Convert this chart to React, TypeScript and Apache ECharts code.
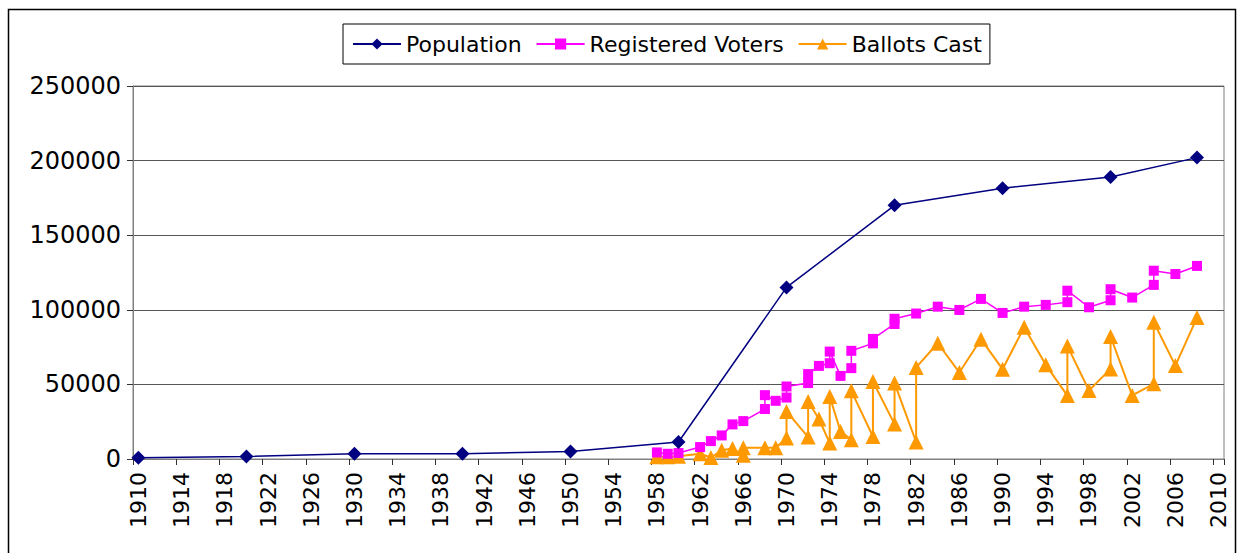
import React, { useEffect, useRef } from "react";
import * as echarts from "echarts";

const firstYear = 1910;
const lastYear = 2010;
const yTicks = { min: 0, max: 250000, interval: 50000 };

const populationYears = [1910, 1920, 1930, 1940, 1950, 1960, 1970, 1980, 1990, 2000, 2008];
const populationValues = [800, 1700, 3500, 3600, 5000, 11400, 115000, 170000, 181500, 189000, 202000];

const voterYears = [
  1958, 1959, 1960, 1962, 1963, 1964, 1965, 1966, 1968, 1968, 1969, 1970, 1970, 1972, 1972, 1973,
  1974, 1974, 1975, 1976, 1976, 1978, 1978, 1980, 1980, 1982, 1984, 1986, 1988, 1990, 1992, 1994,
  1996, 1996, 1998, 2000, 2000, 2002, 2004, 2004, 2006, 2008,
];
const voterValues = [
  4400, 3500, 4000, 8000, 12000, 15800, 23200, 25400, 33500, 42800, 39000, 41200, 48600, 50900, 56900, 62400,
  64200, 72000, 55700, 60900, 72500, 77500, 80500, 90500, 94000, 97500, 102100, 99900, 107300, 97900, 102100, 103300,
  105100, 112800, 101700, 106400, 113800, 108200, 116700, 126200, 124000, 129400,
];

const ballotYears = [
  1958, 1959, 1960, 1962, 1963, 1964, 1965, 1966, 1966, 1968, 1969, 1970, 1970, 1972, 1972, 1973,
  1974, 1974, 1975, 1976, 1976, 1978, 1978, 1980, 1980, 1982, 1982, 1984, 1986, 1988, 1990, 1992,
  1994, 1996, 1996, 1998, 2000, 2000, 2002, 2004, 2004, 2006, 2008,
];
const ballotValues = [
  1500, 1500, 1800, 3500, 1000, 5800, 7000, 2500, 7600, 7600, 7600, 14000, 31900, 14700, 38600, 26800,
  10700, 41900, 18500, 12900, 45700, 15100, 51900, 23400, 50900, 11400, 61400, 77600, 58000, 80300, 60200, 88300,
  63100, 42500, 75800, 45900, 60400, 82100, 42600, 50400, 91700, 62600, 94800,
];

const seriesNames = ["Population", "Registered Voters", "Ballots Cast"];

const categories: string[] = [];
for (let y = firstYear; y <= lastYear; y++) categories.push(String(y));

const pairs = (years: number[], values: number[]) =>
  years.map((y, i) => [y - firstYear, values[i]]);

const FONT = "DejaVu Sans";

export default function App() {
  const ref = useRef<HTMLDivElement>(null);
  useEffect(() => {
    if (!ref.current) return;
    const chart = echarts.init(ref.current, undefined, { renderer: "svg" });
    chart.setOption({
      animation: false,
      backgroundColor: "#ffffff",
      graphic: [
        {
          type: "rect",
          shape: { x: 8.5, y: 9.5, width: 1227, height: 560 },
          style: { fill: "none", stroke: "#000000", lineWidth: 1.5 },
          silent: true,
        },
      ],
      legend: {
        left: 343,
        top: 24,
        padding: [8, 8, 8, 9],
        borderColor: "#000000",
        borderWidth: 1,
        itemWidth: 48,
        itemHeight: 14,
        itemGap: 14,
        textStyle: { fontFamily: FONT, fontSize: 22, color: "#000000", lineHeight: 24 },
        data: seriesNames,
      },
      grid: {
        left: 133,
        right: 14,
        top: 86,
        bottom: 94,
        show: true,
        borderColor: "#808080",
        borderWidth: 1,
        containLabel: false,
      },
      xAxis: {
        type: "category",
        data: categories,
        boundaryGap: true,
        axisLine: { show: true, lineStyle: { color: "#808080", width: 1 } },
        axisTick: { show: true, interval: 3, length: 6, lineStyle: { color: "#333333" } },
        axisLabel: {
          interval: 3,
          rotate: 90,
          margin: 13,
          fontFamily: FONT,
          fontSize: 22,
          color: "#000000",
        },
        splitLine: { show: false },
      },
      yAxis: {
        type: "value",
        min: yTicks.min,
        max: yTicks.max,
        interval: yTicks.interval,
        axisLine: { show: true, lineStyle: { color: "#808080", width: 1 } },
        axisTick: { show: true, length: 6, lineStyle: { color: "#333333" } },
        axisLabel: {
          margin: 12,
          fontFamily: FONT,
          fontSize: 24,
          color: "#000000",
          formatter: (v: number) => String(v),
        },
        splitLine: { show: true, lineStyle: { color: "#555555", width: 1 } },
      },
      series: [
        {
          name: seriesNames[0],
          type: "line",
          data: pairs(populationYears, populationValues),
          symbol: "diamond",
          symbolSize: 14,
          showAllSymbol: true,
          lineStyle: { color: "#000080", width: 1.5 },
          itemStyle: { color: "#000080" },
          z: 4,
        },
        {
          name: seriesNames[1],
          type: "line",
          data: pairs(voterYears, voterValues),
          symbol: "rect",
          symbolSize: 10,
          showAllSymbol: true,
          lineStyle: { color: "#FF00FF", width: 1.5 },
          itemStyle: { color: "#FF00FF" },
          z: 3,
        },
        {
          name: seriesNames[2],
          type: "line",
          data: pairs(ballotYears, ballotValues),
          symbol: "triangle",
          symbolSize: 15,
          showAllSymbol: true,
          lineStyle: { color: "#FF9900", width: 2 },
          itemStyle: { color: "#FF9900" },
          z: 2,
        },
      ],
    });
    return () => chart.dispose();
  }, []);
  return (
    <div
      ref={ref}
      style={{ position: "absolute", left: 0, top: 0, width: 1238, height: 553 }}
    />
  );
}
